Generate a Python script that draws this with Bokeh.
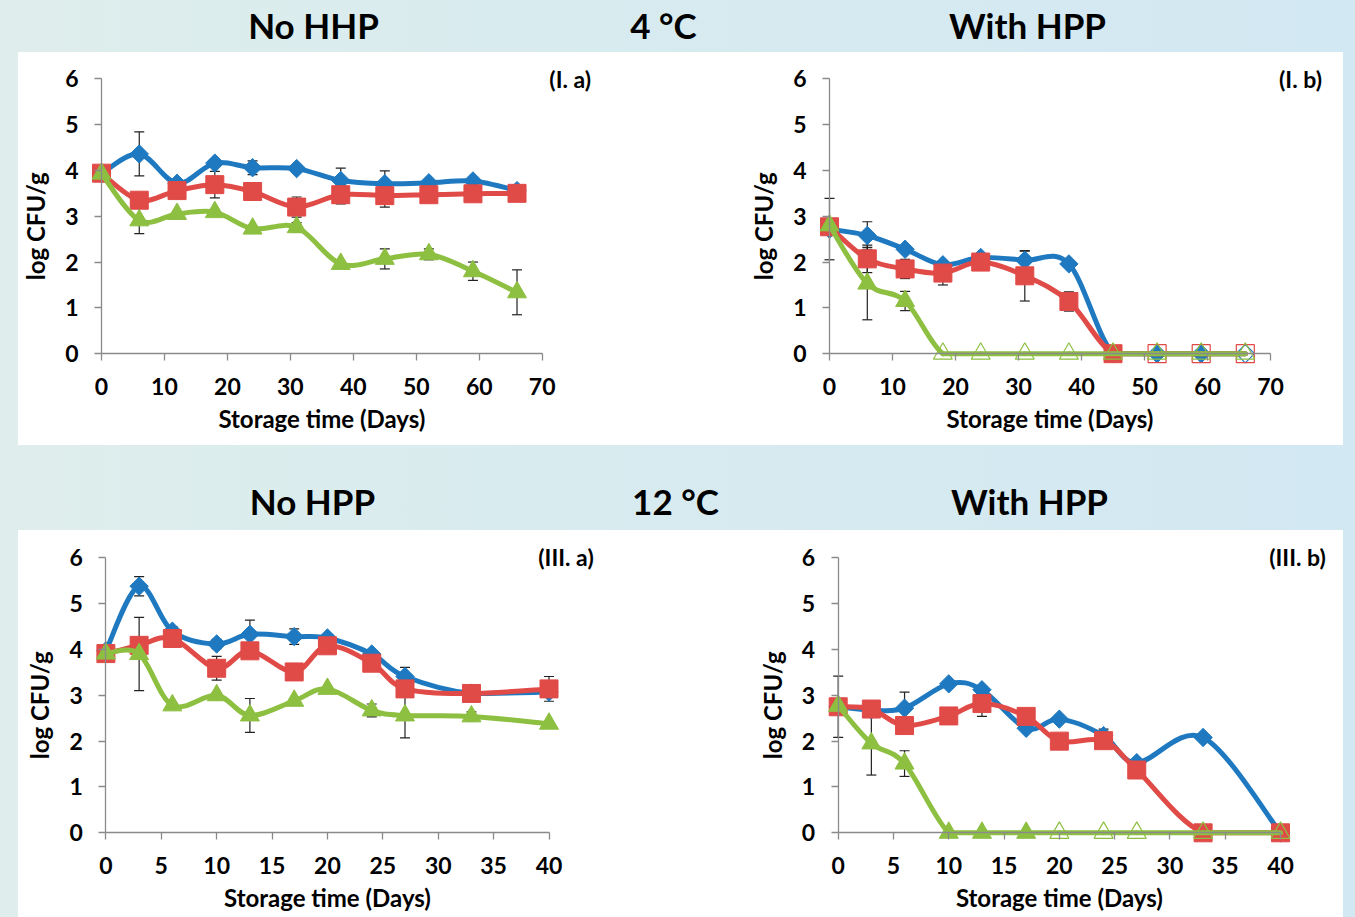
import numpy as np
from bokeh.plotting import figure
from bokeh.models import Range1d, FixedTicker, Label, Whisker, TeeHead, ColumnDataSource, Spacer
from bokeh.layouts import column, row
from bokeh.embed import file_html
from bokeh.resources import INLINE

FONT = "Lato"
BLUE = "#1e79c0"
RED = "#e04a47"
GREEN = "#8dbf41"
AXIS = "#8a8a8a"

# ---------------- data ----------------
days_I = [0, 6, 12, 18, 24, 31, 38, 45, 52, 59, 66]
days_III = [0, 3, 6, 10, 13, 17, 20, 24, 27, 33, 40]

# (I. a) 4 °C, no HPP
blue_Ia = [3.93, 4.36, 3.72, 4.16, 4.06, 4.04, 3.78, 3.71, 3.73, 3.77, 3.56]
blue_Ia_err = [0.05, 0.48, 0.05, 0.08, 0.15, 0.05, 0.27, 0.28, 0.05, 0.05, 0.10]
red_Ia = [3.94, 3.35, 3.56, 3.69, 3.54, 3.20, 3.47, 3.45, 3.47, 3.49, 3.50]
red_Ia_err = [0.05, 0.10, 0.05, 0.29, 0.05, 0.22, 0.20, 0.25, 0.05, 0.05, 0.05]
green_Ia = [3.93, 2.91, 3.05, 3.09, 2.73, 2.76, 1.96, 2.07, 2.17, 1.80, 1.34]
green_Ia_err = [0.05, 0.29, 0.05, 0.05, 0.05, 0.10, 0.05, 0.22, 0.12, 0.20, 0.49]

# (I. b) 4 °C, with HPP
blue_Ib = [2.72, 2.58, 2.28, 1.94, 2.10, 2.04, 1.96, 0, 0, 0, 0]
blue_Ib_err = [0.67, 0.30, 0.05, 0.05, 0.05, 0.20, 0.05, 0, 0, 0, 0]
blue_Ib_open = [0, 0, 0, 0, 0, 0, 0, 0, 0, 0, 1]
red_Ib = [2.77, 2.07, 1.85, 1.76, 2.00, 1.70, 1.14, 0, 0, 0, 0]
red_Ib_err = [0.05, 0.30, 0.21, 0.26, 0.05, 0.55, 0.21, 0, 0, 0, 0]
red_Ib_open = [0, 0, 0, 0, 0, 0, 0, 0, 1, 1, 1]
green_Ib = [2.80, 1.53, 1.15, 0, 0, 0, 0, 0, 0, 0, 0]
green_Ib_err = [0.05, 0.79, 0.21, 0, 0, 0, 0, 0, 0, 0, 0]
green_Ib_open = [0, 0, 0, 1, 1, 1, 1, 1, 1, 1, 1]

# (III. a) 12 °C, no HPP
blue_IIIa = [3.97, 5.38, 4.40, 4.12, 4.33, 4.28, 4.25, 3.90, 3.41, 3.04, 3.07]
blue_IIIa_err = [0.05, 0.21, 0.10, 0.10, 0.31, 0.17, 0.05, 0.05, 0.20, 0.05, 0.10]
red_IIIa = [3.91, 4.09, 4.24, 3.59, 3.97, 3.51, 4.08, 3.70, 3.14, 3.04, 3.14]
red_IIIa_err = [0.05, 0.10, 0.05, 0.26, 0.05, 0.05, 0.05, 0.05, 0.05, 0.05, 0.27]
green_IIIa = [3.91, 3.90, 2.78, 3.00, 2.56, 2.88, 3.14, 2.67, 2.56, 2.54, 2.38]
green_IIIa_err = [0.05, 0.80, 0.05, 0.05, 0.37, 0.05, 0.05, 0.14, 0.49, 0.10, 0.05]

# (III. b) 12 °C, with HPP
blue_IIIb = [2.75, 2.68, 2.72, 3.25, 3.12, 2.28, 2.48, 2.12, 1.53, 2.08, 0]
blue_IIIb_err = [0.67, 0.05, 0.35, 0.05, 0.05, 0.05, 0.05, 0.14, 0.05, 0.05, 0]
red_IIIb = [2.75, 2.70, 2.34, 2.55, 2.82, 2.54, 2.00, 2.01, 1.37, 0, 0]
red_IIIb_err = [0.05, 0.05, 0.17, 0.05, 0.28, 0.05, 0.05, 0.05, 0.05, 0, 0]
green_IIIb = [2.77, 1.95, 1.51, 0, 0, 0, 0, 0, 0, 0, 0]
green_IIIb_err = [0.05, 0.69, 0.28, 0, 0, 0, 0, 0, 0, 0, 0]
green_IIIb_open = [0, 0, 0, 0, 0, 0, 1, 1, 1, 1, 1]

ticks_I = [0, 10, 20, 30, 40, 50, 60, 70]
ticks_III = [0, 5, 10, 15, 20, 25, 30, 35, 40]
ticks_y = [0, 1, 2, 3, 4, 5, 6]

x_title = "Storage time (Days)"
y_title = "log CFU/g"


def smooth(x, y):
    x = np.asarray(x, float)
    y = np.asarray(y, float)
    n = len(x)
    lo = y.min()
    d = {k: [] for k in ("x0", "y0", "x1", "y1", "cx0", "cy0", "cx1", "cy1")}
    for i in range(n - 1):
        i0 = max(i - 1, 0)
        i3 = min(i + 2, n - 1)
        d["x0"].append(x[i]); d["y0"].append(y[i])
        d["x1"].append(x[i + 1]); d["y1"].append(y[i + 1])
        d["cx0"].append(x[i] + (x[i + 1] - x[i0]) / 6)
        d["cy0"].append(max(lo, y[i] + (y[i + 1] - y[i0]) / 6))
        d["cx1"].append(x[i + 1] - (x[i3] - x[i]) / 6)
        d["cy1"].append(max(lo, y[i + 1] - (y[i3] - y[i]) / 6))
    return d


def draw_errors(p, x, y, err):
    xs, up, lo = [], [], []
    for xi, yi, e in zip(x, y, err):
        if e > 0:
            xs.append(xi); up.append(yi + e); lo.append(yi - e)
    src = ColumnDataSource(dict(x=xs, upper=up, lower=lo))
    p.add_layout(Whisker(source=src, base="x", upper="upper", lower="lower",
                         line_color="#222222", line_width=1.2,
                         upper_head=TeeHead(size=10, line_color="#222222", line_width=1.2),
                         lower_head=TeeHead(size=10, line_color="#222222", line_width=1.2)))


def draw_series(p, x, y, color, kind, open_flags=None):
    p.bezier(source=ColumnDataSource(smooth(x, y)), x0="x0", y0="y0", x1="x1", y1="y1",
             cx0="cx0", cy0="cy0", cx1="cx1", cy1="cy1",
             line_color=color, line_width=5, line_cap="round")
    if open_flags is None:
        open_flags = [0] * len(x)
    if kind == "diamond":
        mk = dict(marker="square", angle=np.pi / 4, size=13)
    elif kind == "square":
        mk = dict(marker="square", size=18)
    else:
        mk = dict(marker="triangle", size=19)
    fx = [xi for xi, o in zip(x, open_flags) if not o]
    fy = [yi for yi, o in zip(y, open_flags) if not o]
    ox = [xi for xi, o in zip(x, open_flags) if o]
    oy = [yi for yi, o in zip(y, open_flags) if o]
    if fx:
        p.scatter(fx, fy, fill_color=color, line_color=color, line_width=1, **mk)
    if ox:
        p.scatter(ox, oy, fill_alpha=0, line_color=color, line_width=1.2, **mk)


def txt_label(**kw):
    base = dict(text_font=FONT, text_font_style="bold", text_color="black",
                text_align="center", text_baseline="middle")
    base.update(kw)
    return Label(**base)


def make_panel(w, h, x0px, x1px, y0px, y6px, xticks, label, label_dx, label_dy):
    xmax = xticks[-1]
    ppx = (x1px - x0px) / xmax
    ppy = (y0px - y6px) / 6.0
    xr = Range1d(-x0px / ppx, (w - x0px) / ppx)
    yr = Range1d(-(h - y0px) / ppy, y0px / ppy)
    p = figure(width=w, height=h, x_range=xr, y_range=yr,
               min_border_left=0, min_border_right=0, min_border_top=0, min_border_bottom=0,
               output_backend="svg", toolbar_location=None,
               background_fill_color="white", border_fill_color="white")
    p.title.visible = False
    p.outline_line_color = None
    p.xgrid.visible = False
    p.ygrid.visible = False
    for ax, tk, std in ((p.xaxis[0], xticks, 17), (p.yaxis[0], ticks_y, 16)):
        ax.ticker = FixedTicker(ticks=tk)
        ax.bounds = (tk[0], tk[-1])
        ax.fixed_location = 0
        ax.axis_line_color = AXIS
        ax.axis_line_width = 1.3
        ax.major_tick_line_color = AXIS
        ax.major_tick_line_width = 1.3
        ax.major_tick_in = 0
        ax.major_tick_out = 7
        ax.minor_tick_line_color = None
        ax.major_label_text_font = FONT
        ax.major_label_text_font_style = "bold"
        ax.major_label_text_font_size = "23px"
        ax.major_label_text_color = "black"
        ax.major_label_standoff = std
    p.add_layout(txt_label(x=(xticks[0] + xticks[-1]) / 2, y=0, y_offset=-65,
                           text=x_title, text_font_size="24px"))
    p.add_layout(txt_label(x=0, y=(ticks_y[0] + ticks_y[-1]) / 2, x_offset=-66, y_offset=-10,
                           angle=np.pi / 2, text=y_title, text_font_size="24px"))
    p.add_layout(txt_label(x=xmax, y=ticks_y[-1], x_offset=label_dx, y_offset=label_dy,
                           text=label, text_font_size="23px"))
    return p


def fill_panel(p, x, series):
    for y, err, color, kind, op in series:
        draw_errors(p, x, y, err)
    for y, err, color, kind, op in series:
        draw_series(p, x, y, color, kind, op)


p1 = make_panel(662, 393, 83, 523.7, 301.2, 26.3, ticks_I, "(I. a)", 28, 0)
fill_panel(p1, days_I, [(blue_Ia, blue_Ia_err, BLUE, "diamond", None),
                        (red_Ia, red_Ia_err, RED, "square", None),
                        (green_Ia, green_Ia_err, GREEN, "triangle", None)])

p2 = make_panel(663, 393, 149, 590, 301.2, 26.3, ticks_I, "(I. b)", 30, 0)
fill_panel(p2, days_I, [(blue_Ib, blue_Ib_err, BLUE, "diamond", blue_Ib_open),
                        (red_Ib, red_Ib_err, RED, "square", red_Ib_open),
                        (green_Ib, green_Ib_err, GREEN, "triangle", green_Ib_open)])

p3 = make_panel(662, 387, 87.4, 530.5, 302.3, 27.3, ticks_III, "(III. a)", 17, 1)
fill_panel(p3, days_III, [(blue_IIIa, blue_IIIa_err, BLUE, "diamond", None),
                          (red_IIIa, red_IIIa_err, RED, "square", None),
                          (green_IIIa, green_IIIa_err, GREEN, "triangle", None)])

p4 = make_panel(663, 387, 157.7, 600, 302.3, 27.3, ticks_III, "(III. b)", 17, 1)
fill_panel(p4, days_III, [(blue_IIIb, blue_IIIb_err, BLUE, "diamond", None),
                          (red_IIIb, red_IIIb_err, RED, "square", None),
                          (green_IIIb, green_IIIb_err, GREEN, "triangle", green_IIIb_open)])


def header_fig(h, items):
    p = figure(width=1355, height=h, x_range=Range1d(0, 1355), y_range=Range1d(h, 0),
               x_axis_type=None, y_axis_type=None,
               min_border_left=0, min_border_right=0, min_border_top=0, min_border_bottom=0,
               output_backend="svg", toolbar_location=None,
               background_fill_alpha=0, border_fill_alpha=0)
    p.title.visible = False
    p.outline_line_color = None
    p.grid.visible = False
    for txt, cx, cy in items:
        p.add_layout(txt_label(x=cx, y=cy, text=txt, text_font_size="35px"))
    return p


h1 = header_fig(52, [("No HHP", 313, 24), ("4 °C", 663, 24), ("With HPP", 1027, 24)])
h2 = header_fig(85, [("No HPP", 312, 55), ("12 °C", 675, 55), ("With HPP", 1029, 55)])

r1 = row(Spacer(width=18, height=393),
         row(p1, p2, styles={"background": "white"}),
         Spacer(width=12, height=393))
r2 = row(Spacer(width=18, height=387),
         row(p3, p4, styles={"background": "white"}),
         Spacer(width=12, height=387))

root = column(h1, r1, h2, r2, width=1355, height=917,
              styles={"background": "linear-gradient(90deg, #dfeeec 0%, #d6eaf0 55%, #d2e8f2 100%)"})

open("out.html", "w").write(file_html(root, INLINE))
